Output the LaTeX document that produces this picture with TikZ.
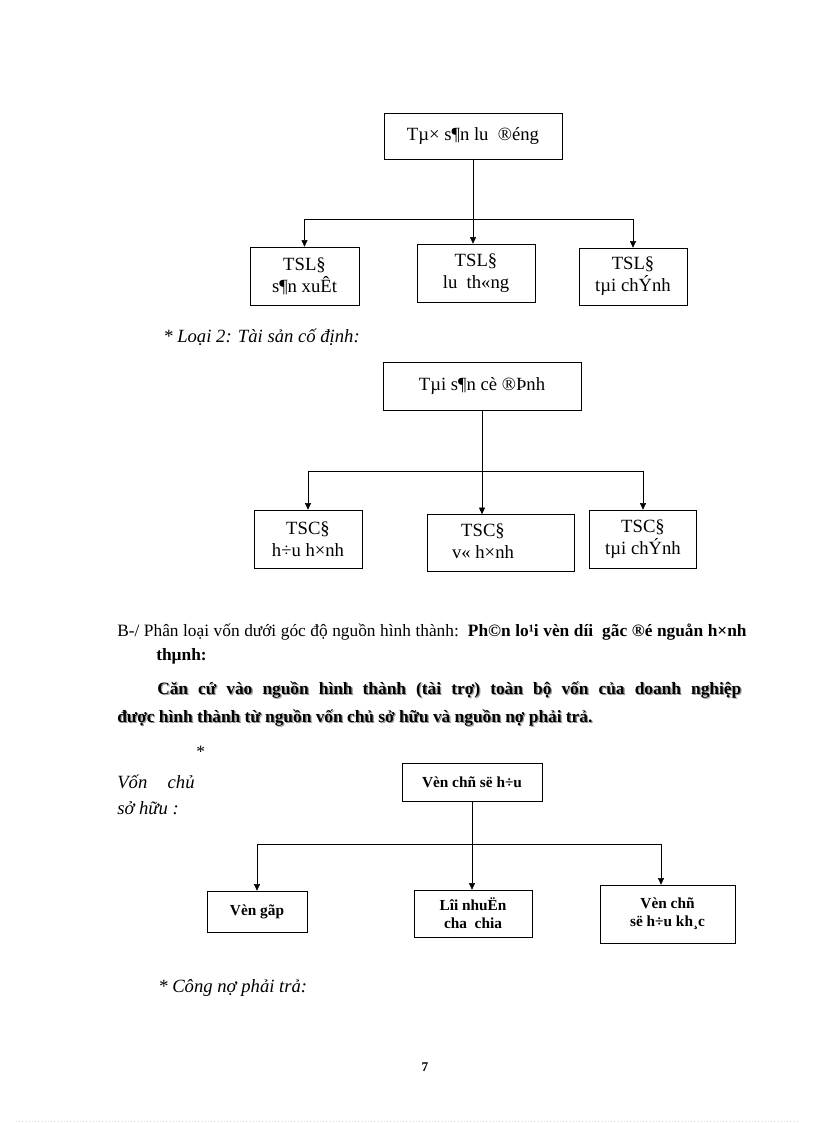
\documentclass[tikz,border=0pt]{standalone}
\usepackage{fontspec}
\setmainfont{Liberation Serif}
\usetikzlibrary{arrows.meta}

\begin{document}
\begin{tikzpicture}[x=0.75pt, y=-0.75pt,
    box/.style={draw, thin, inner sep=0pt, align=center, font=\fontsize{14}{16.5}\selectfont},
    boldbox/.style={box, font=\fontsize{11.5}{13.5}\selectfont\bfseries},
    arr/.style={-{Triangle[length=5pt, width=4.5pt]}, thin},
    note/.style={anchor=west, inner sep=0pt, font=\fontsize{14}{16}\selectfont\itshape},
    para/.style={anchor=west, inner sep=0pt}]
  \useasboundingbox (0,0) rectangle (816,1123);
  % tai san luu dong
  \node[box, minimum width=133.5pt, minimum height=34.5pt] (tsld) at (473,136) {Tµ× s¶n lu\ \ ®éng};
  \node[box, minimum width=81.75pt, minimum height=43.5pt] (sanxuat) at (304.5,276) {TSL§\\s¶n xuÊt};
  \node[box, minimum width=88.5pt, minimum height=43.5pt] (luthong) at (476,273) {TSL§\\lu\ \ th«ng};
  \node[box, minimum width=81pt, minimum height=42.75pt] (taichinh) at (633,276.5) {TSL§\\tµi chÝnh};
  \coordinate (bar1) at (0,219);
  \draw (sanxuat.north |- bar1) -- (taichinh.north |- bar1);
  \draw[arr] (tsld.south) -- (tsld.south |- luthong.north);
  \draw[arr] (sanxuat.north |- bar1) -- (sanxuat.north);
  \draw[arr] (taichinh.north |- bar1) -- (taichinh.north);
  \node[note] (loai2) at (163,337) {* Loại 2: Tài sản cố định:};
  % tai san co dinh
  \node[box, minimum width=148.5pt, minimum height=36pt] (tscd) at (482,386) {Tµi s¶n cè ®Þnh};
  \node[box, minimum width=81pt, minimum height=43.5pt] (huuhinh) at (308,539) {TSC§\\h÷u h×nh};
  \node[box, minimum width=110.25pt, minimum height=42.75pt] (vohinh) at (500.5,543) {};
  \node[align=center, inner sep=0pt, font=\fontsize{14}{16.5}\selectfont] (vohinhtext) at (483,541) {TSC§\\v« h×nh};
  \node[box, minimum width=80.25pt, minimum height=43.5pt] (taichinh2) at (643,539) {TSC§\\tµi chÝnh};
  \coordinate (bar2) at (0,471);
  \draw (huuhinh.north |- bar2) -- (taichinh2.north |- bar2);
  \draw[arr] (tscd.south) -- (tscd.south |- vohinh.north);
  \draw[arr] (huuhinh.north |- bar2) -- (huuhinh.north);
  \draw[arr] (taichinh2.north |- bar2) -- (taichinh2.north);
  % phan loai
  \node[para, font=\fontsize{13}{15}\selectfont] (phanloai) at (117,632) {\makebox[472pt][s]{B-/ Phân loại vốn dưới góc độ nguồn hình thành:\ \ \textbf{Ph©n lo¹i vèn díi\ \ gãc ®é nguån h×nh}}};
  \node[para, font=\fontsize{13}{15}\selectfont\bfseries] (thanh) at (156,656) {thµnh:};
  \node[para, font=\fontsize{13}{15}\selectfont\bfseries, text=black!40] at (158.3,691.3) {\makebox[438pt][s]{Căn cứ vào nguồn hình thành (tài trợ) toàn bộ vốn của doanh nghiệp}};
  \node[para, font=\fontsize{13}{15}\selectfont\bfseries] (cancu) at (157,690) {\makebox[438pt][s]{Căn cứ vào nguồn hình thành (tài trợ) toàn bộ vốn của doanh nghiệp}};
  \node[para, font=\fontsize{13}{15}\selectfont\bfseries, text=black!40] at (118.3,719.3) {được hình thành từ nguồn vốn chủ sở hữu và nguồn nợ phải trả.};
  \node[para, font=\fontsize{13}{15}\selectfont\bfseries] (duoc) at (117,718) {được hình thành từ nguồn vốn chủ sở hữu và nguồn nợ phải trả.};
  % von chu so huu
  \node[para, font=\fontsize{13}{15}\selectfont] (sao) at (196,752) {*};
  \node[note] (vonchu) at (117,782) {\makebox[58pt][s]{Vốn chủ}};
  \node[note] (sohuu) at (117,808) {sở hữu :};
  \node[boldbox, minimum width=105pt, minimum height=28.5pt] (vcsh) at (472,782) {Vèn chñ së h÷u};
  \node[boldbox, minimum width=75pt, minimum height=30.75pt] (vongop) at (257,911.5) {Vèn gãp};
  \node[boldbox, minimum width=88.5pt, minimum height=35.25pt] (loinhuan) at (473,913.5) {Lîi nhuËn\\cha\ \ chia};
  \node[boldbox, minimum width=101.25pt, minimum height=43.5pt] (vonkhac) at (667.5,914) {Vèn chñ\\së h÷u kh¸c};
  \coordinate (bar3l) at (257,844);
  \coordinate (bar3r) at (661,844);
  \draw (bar3l) -- (bar3r);
  \draw[arr] (vcsh.south) -- (vcsh.south |- loinhuan.north);
  \draw[arr] (bar3l) -- (vongop.north);
  \draw[arr] (bar3r) -- (bar3r |- vonkhac.north);
  \node[note] (congno) at (158,988) {* Công nợ phải trả:};
  \node[font=\fontsize{10}{12}\selectfont\bfseries] (trang) at (425,1067) {7};
  \draw[black!15, dotted] (16,1121) -- (800,1121);
\end{tikzpicture}
\end{document}
